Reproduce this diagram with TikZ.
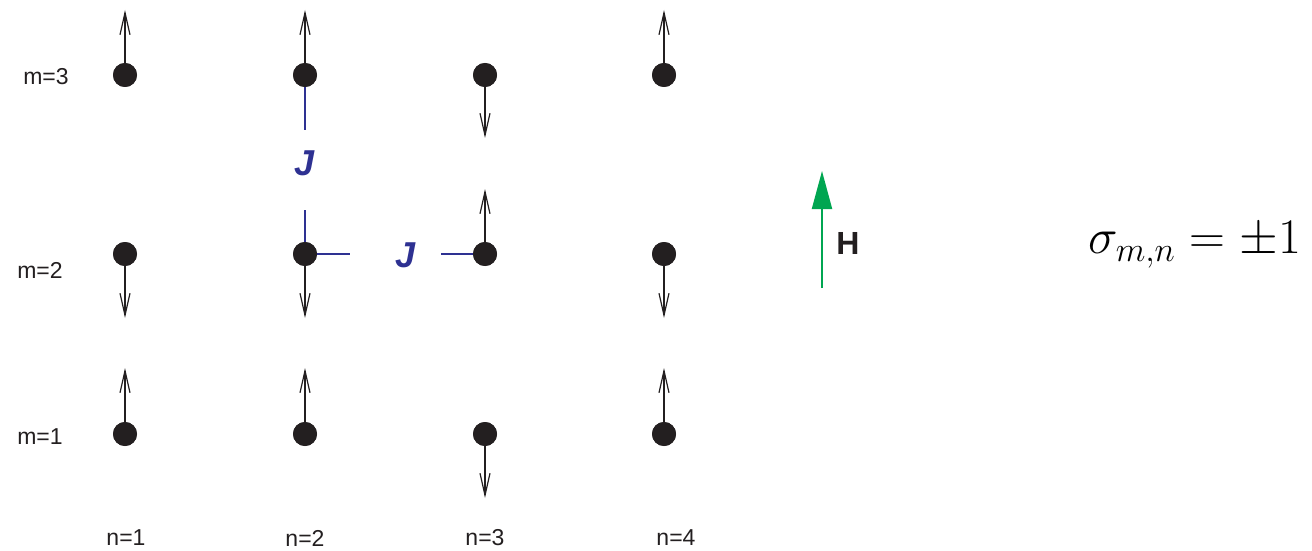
\documentclass[tikz,border=0pt]{standalone}
\usepackage{fontspec}
\setmainfont{Liberation Sans}
\usetikzlibrary{arrows.meta}
\definecolor{dotc}{HTML}{231F20}
\definecolor{jblue}{HTML}{2E3192}
\definecolor{hgreen}{HTML}{00A651}
\tikzset{
  spin/.style={draw=dotc, line width=0.6pt, -{Straight Barb[length=11pt,width=5pt,line width=0.6pt]}},
  site/.style={circle, fill=dotc, inner sep=0pt, minimum size=12pt},
  lbl/.style={font=\fontsize{11.5}{14}\selectfont, text=dotc},
  jline/.style={draw=jblue, line width=0.6pt},
  jlbl/.style={font=\fontsize{18}{20}\selectfont\bfseries\itshape, text=jblue},
}
\begin{document}
\begin{tikzpicture}[x=0.5pt,y=-0.5pt]
\useasboundingbox (0,0) rectangle (1312,551);
% sites
\foreach \c/\x in {1/125,2/305,3/485,4/664}{
  \foreach \r/\y in {3/75,2/254,1/434}{
    \node[site] (s\r\c) at (\x,\y) {};
  }
}
% spin tips
\coordinate (t31) at (125,10);  \coordinate (t32) at (305,10);
\coordinate (t33) at (485,138); \coordinate (t34) at (664,10);
\coordinate (t21) at (125,318); \coordinate (t22) at (305,318);
\coordinate (t23) at (485,189); \coordinate (t24) at (664,318);
\coordinate (t11) at (125,368); \coordinate (t12) at (305,368);
\coordinate (t13) at (485,498); \coordinate (t14) at (664,368);
\foreach \r in {1,2,3}{\foreach \c in {1,2,3,4}{
  \draw[spin] (s\r\c.center) -- (t\r\c);
}}
% J couplings
\coordinate (ja) at (305,130);
\coordinate (jb) at (305,210);
\coordinate (jc) at (350,254);
\coordinate (jd) at (441,254);
\draw[jline] (s32.center) -- (ja);
\draw[jline] (jb) -- (s22.center);
\draw[jline] (s22.center) -- (jc);
\draw[jline] (jd) -- (s23.center);
% redraw dots over lines
\foreach \c/\x in {1/125,2/305,3/485,4/664}{
  \foreach \r/\y in {3/75,2/254,1/434}{
    \fill[dotc] (\x,\y) circle (6pt);
  }
}
\node[jlbl] (J1) at (305,163) {J};
\node[jlbl] (J2) at (406,255) {J};
% field H
\coordinate (h0) at (822,288);
\coordinate (h1) at (822,171);
\draw[draw=hgreen, line width=1pt, -{Triangle[length=19pt,width=10pt]}, hgreen] (h0) -- (h1);
\node[font=\fontsize{16}{18}\selectfont\bfseries, text=dotc] (H) at (848,243) {H};
% row labels
\node[lbl] (m3) at (46,77) {m=3};
\node[lbl] (m2) at (40,270) {m=2};
\node[lbl] (m1) at (40,437) {m=1};
% column labels
\node[lbl] (n1) at (126,538) {n=1};
\node[lbl] (n2) at (305,538) {n=2};
\node[lbl] (n3) at (485,538) {n=3};
\node[lbl] (n4) at (676,538) {n=4};
% sigma
\node[font=\fontsize{23}{26}\selectfont, anchor=east] (sig) at (1308,245) {$\sigma_{m,n}=\pm1$};
\end{tikzpicture}
\end{document}
